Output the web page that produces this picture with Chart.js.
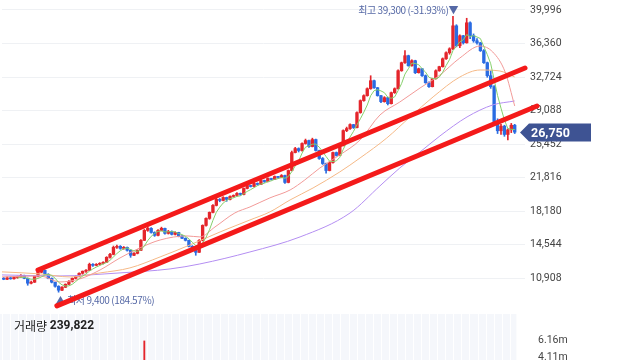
<!DOCTYPE html>
<html>
<head>
<meta charset="utf-8">
<script src="https://cdn.jsdelivr.net/npm/chart.js@4.4.1/dist/chart.umd.min.js"></script>
<style>
  html, body { margin: 0; padding: 0; background: #fff; }
  #wrap { position: relative; width: 640px; height: 360px; overflow: hidden; }
  #price { position: absolute; left: 0; top: 0; }
  #vol { position: absolute; left: 0; top: 314px; }
</style>
</head>
<body>
<div id="wrap">
  <canvas id="price" width="640" height="312"></canvas>
  <canvas id="vol" width="640" height="46"></canvas>
</div>
<script>
// --- datos de velas (일봉) ---
const opens = [
  10850,10800,10950,10850,11000,11050,11200,10900,10370,10480,
  11120,11560,11770,11340,10900,10480,10040,9610,9930,10260,
  10580,10900,11120,11450,11670,11770,12420,12310,12420,12530,
  12640,13180,13500,14260,14370,14150,14260,13940,13400,13610,
  13940,15020,16100,16320,15880,15560,16100,16320,15780,15990,
  15670,15880,15450,15240,15020,14370,13940,13720,15020,16640,
  17400,18050,18810,19460,19350,19670,19460,19780,19890,20110,
  20000,20650,20970,20860,21190,21080,21510,21400,21730,21620,
  21940,21840,22050,21300,22590,24540,24970,24760,25520,25840,
  25190,25950,24760,23890,23350,22590,23460,24540,24220,25300,
  26920,27140,27570,27250,28870,30170,30710,31460,32330,31570,
  30710,30060,30490,29840,31030,31460,33410,34280,35040,33950,
  34500,33200,33630,32870,32110,31680,32550,33410,33850,34710,
  35360,35790,38280,36120,37200,36440,38610,37200,36660,36440,
  35580,34280,32870,31680,27900,26900,27400,26500,27000,27500
];
const highs = [
  11000,11050,11050,11100,11150,11300,11250,10950,10600,11150,
  11600,11990,11800,11400,10950,10500,10100,10000,10300,10650,
  10950,11200,11500,11700,11850,12550,12500,12500,12600,12700,
  13250,13600,14400,14500,14450,14350,14300,14000,13700,14000,
  15100,16200,16500,16400,15950,16200,16450,16350,16100,16050,
  15950,15900,15550,15300,15050,14450,14100,15100,16700,17450,
  18100,18900,19600,19550,19750,19700,19850,19950,20200,20150,
  20700,21050,21000,21300,21250,21600,21550,21800,21750,22000,
  21950,22150,22100,22650,24700,25100,25050,25600,26000,25900,
  26100,26000,24800,24000,23400,23550,24600,24600,25400,27000,
  27300,27650,27600,28950,30250,30800,31550,32870,32400,31600,
  30750,30600,30550,31100,31550,33500,34350,35600,35100,34600,
  34550,33700,33650,32950,32200,32600,33500,33900,34800,35450,
  35900,39300,38400,37300,37250,39100,38700,37400,36900,36500,
  35700,34350,33400,31800,28200,27600,27500,27100,27700,27600
];
const lows = [
  10750,10750,10800,10800,10900,11000,10850,10150,10300,10450,
  11050,11500,11300,10850,10400,9950,9400,9550,9900,10200,
  10500,10850,11050,11350,11550,11750,12200,12250,12350,12450,
  12600,13100,13450,14150,14050,14050,13850,13180,13350,13550,
  13900,15000,16000,15800,15450,15500,16050,15700,15700,15600,
  15600,15400,15200,14950,14300,13850,13400,13700,14950,16550,
  17300,18000,18750,19200,19300,19250,19400,19700,19800,19900,
  19950,20600,20800,20800,21000,21050,21300,21350,21550,21600,
  21750,21800,21200,21250,22550,24500,24600,24700,25450,25100,
  25150,24700,23800,23250,22300,22550,23400,24150,24200,25250,
  26800,27050,27150,27200,28800,30100,30650,31400,31500,30650,
  29950,30000,29700,29800,30950,31400,33350,34200,33900,33900,
  33100,33150,32800,32050,31600,31650,32500,33350,33800,34650,
  35200,35700,36000,35900,36300,36400,36900,36500,36300,35500,
  34200,32700,31500,27600,26600,26500,26300,25900,26700,26600
];
const closes = [
  10800,10950,10850,11000,11050,11200,10900,10370,10480,11120,
  11560,11770,11340,10900,10480,10040,9610,9930,10260,10580,
  10900,11120,11450,11670,11770,12420,12310,12420,12530,12640,
  13180,13500,14260,14370,14150,14260,13940,13400,13610,13940,
  15020,16100,16320,15880,15560,16100,16320,15780,15990,15670,
  15880,15450,15240,15020,14370,13940,13720,15020,16640,17400,
  18050,18810,19460,19350,19670,19460,19780,19890,20110,20000,
  20650,20970,20860,21190,21080,21510,21400,21730,21620,21940,
  21840,22050,21300,22590,24540,24970,24760,25520,25840,25190,
  25950,24760,23890,23350,22590,23460,24540,24220,25300,26920,
  27140,27570,27250,28870,30170,30710,31460,32330,31570,30710,
  30060,30490,29840,31030,31460,33410,34280,35040,33950,34500,
  33200,33630,32870,32110,31680,32550,33410,33850,34710,35360,
  35790,38280,36120,37200,36440,38610,37200,36660,36440,35580,
  34280,32870,31680,27900,26900,27400,26500,27000,27500,26750
];
const volumes = [
  210000,180000,150000,170000,160000,240000,260000,520000,310000,640000,
  720000,680000,350000,410000,380000,420000,560000,330000,290000,310000,
  340000,360000,420000,390000,300000,1450000,620000,480000,450000,510000,
  1380000,1210000,2350000,1140000,760000,620000,690000,980000,570000,640000,
  2900000,6050000,2480000,1350000,1020000,1260000,980000,1110000,760000,820000,
  690000,730000,650000,720000,1080000,1150000,990000,1820000,2760000,2240000,
  1980000,2110000,2050000,1240000,1130000,1010000,960000,880000,1020000,790000,
  1340000,1190000,760000,910000,720000,1050000,680000,870000,640000,930000,
  610000,780000,1120000,1640000,3240000,2150000,1480000,1890000,1720000,1310000,
  1560000,1680000,1420000,1190000,1370000,1080000,1460000,890000,1520000,2810000,
  1930000,1640000,1210000,2560000,3120000,2470000,2280000,3350000,1980000,1760000,
  1430000,1120000,1290000,1670000,1540000,2980000,2630000,3040000,1870000,1410000,
  1530000,1090000,1240000,1310000,1180000,1260000,1420000,1090000,1680000,1870000,
  1540000,3480000,2620000,1910000,1730000,3210000,2140000,1560000,1220000,1470000,
  1830000,2050000,2240000,2960000,1680000,980000,760000,890000,540000,239822
];

// ejes
const yTicks = [10908, 14544, 18180, 21816, 25452, 29088, 32724, 36360, 39996];
const volTicks = [4110000, 6160000];

// medias móviles (índice de vela, precio)
const ma20X = [-0.5, 10.6, 16.4, 22.2, 28.1, 33.9, 39.7, 45.6, 53.4, 57.2, 61.6, 67.4, 71.8, 77.6, 83.5, 87.8, 92.2, 98, 103.9, 109.7, 115.5, 121.4, 127.2, 133, 138.9, 142.6, 146.2, 149];
const ma20Y = [11050, 11160, 10510, 10840, 11810, 13110, 14200, 15060, 15500, 15390, 16470, 17990, 18640, 19620, 20480, 21570, 22870, 24280, 25900, 28610, 30020, 31540, 32950, 34790, 36090, 35440, 33280, 29590];
const ma60X = [-0.5, 10.6, 19.3, 28.1, 36.8, 45.6, 54.3, 63.1, 71.8, 77.6, 83.5, 90.2, 98, 103.9, 111.7, 118.5, 125.2, 133, 138.9, 144.7, 149];
const ma60Y = [11600, 11380, 11050, 11490, 12030, 13220, 14520, 15930, 17230, 18100, 19400, 20700, 22440, 23950, 26120, 28400, 30570, 32730, 33490, 33380, 32730];
const ma120X = [-0.5, 16.4, 33.9, 48.5, 57.2, 71.8, 86.4, 101, 109.7, 115.5, 121.4, 127.2, 135.1, 142.6, 149];
const ma120Y = [11270, 11160, 11490, 11920, 12460, 13760, 15390, 17990, 20920, 22870, 24600, 26340, 28400, 29700, 30130];

// líneas de tendencia dibujadas a mano (canal)
const trendUpX = [10.0, 152.0];
const trendUpY = [11810, 33710];
const trendLowX = [15.5, 155.5];
const trendLowY = [7910, 29590];

// --- estilos ---
const N = closes.length;
const UP = '#e4252b';
const DOWN = '#2a6be2';
const NOTE = '#5669a6';
const numFont = 'Roboto, "Noto Sans", sans-serif';
const krFont = '"Noto Sans CJK KR", "Noto Sans", sans-serif';
const candleCol = closes.map((c, i) => c >= opens[i] ? UP : DOWN);
const fmt = v => Math.round(v).toLocaleString('en-US');

const xOpts = { type: 'linear', display: false, min: -0.5, max: 152, offset: false, grid: { display: false } };

function pts(xs, ys) { return xs.map((x, i) => ({ x: x, y: ys[i] })); }

// media de 5 días
const ma5 = closes.map((c, i) => {
  if (i < 4) return { x: i, y: null };
  let s = 0;
  for (let k = i - 4; k <= i; k++) s += closes[k];
  return { x: i, y: s / 5 };
});

function lineDs(data, color, order, extra) {
  return Object.assign({ type: 'line', data: data, borderColor: color, borderWidth: 1, pointRadius: 0, fill: false, order: order }, extra || {});
}

// --- textos de máximo / mínimo ---
const hiIdx = highs.indexOf(Math.max(...highs));
const loIdx = lows.indexOf(Math.min(...lows));
const last = closes[N - 1];

const notesPlugin = {
  id: 'notes',
  beforeDatasetsDraw(chart) {
    const ctx = chart.ctx, xs = chart.scales.x, ys = chart.scales.y;
    ctx.save();
    ctx.font = '10px ' + krFont;
    ctx.letterSpacing = '-0.4px';
    ctx.fillStyle = NOTE;
    ctx.textBaseline = 'middle';
    const pHi = ((last - highs[hiIdx]) / highs[hiIdx] * 100).toFixed(2);
    ctx.textAlign = 'right';
    ctx.fillText('최고 ' + fmt(highs[hiIdx]) + ' (' + pHi + '%)▼', xs.getPixelForValue(hiIdx) + 5, ys.getPixelForValue(highs[hiIdx]) - 6);
    const pLo = ((last - lows[loIdx]) / lows[loIdx] * 100).toFixed(2);
    ctx.textAlign = 'left';
    ctx.fillText('▲ 최저 ' + fmt(lows[loIdx]) + ' (' + pLo + '%)', xs.getPixelForValue(loIdx) - 3, ys.getPixelForValue(lows[loIdx]) + 8);
    ctx.restore();
  }
};

// --- etiqueta del último precio ---
const tagPlugin = {
  id: 'tag',
  afterDraw(chart) {
    const ctx = chart.ctx, ys = chart.scales.y;
    const y = Math.round(ys.getPixelForValue(last)) + 0.5;
    const tip = chart.chartArea.right - 5;
    ctx.save();
    ctx.fillStyle = '#3e5393';
    ctx.beginPath();
    ctx.moveTo(tip, y);
    ctx.lineTo(tip + 9, y - 9);
    ctx.lineTo(tip + 71, y - 9);
    ctx.lineTo(tip + 71, y + 9);
    ctx.lineTo(tip + 9, y + 9);
    ctx.closePath();
    ctx.fill();
    ctx.fillStyle = '#fff';
    ctx.font = 'bold 12.5px ' + numFont;
    ctx.textBaseline = 'middle';
    ctx.textAlign = 'left';
    ctx.fillText(fmt(last), tip + 11, y + 1);
    ctx.restore();
  }
};

new Chart(document.getElementById('price'), {
  type: 'bar',
  data: {
    datasets: [
      lineDs(pts(trendUpX, trendUpY), '#f41a1a', 0, { borderWidth: 5, clip: false, borderCapStyle: 'round' }),
      lineDs(pts(trendLowX, trendLowY), '#f41a1a', 0, { borderWidth: 5, clip: false, borderCapStyle: 'round' }),
      lineDs(ma5, '#86d06c', 1),
      lineDs(pts(ma20X, ma20Y), '#f29a98', 2, { cubicInterpolationMode: 'monotone' }),
      lineDs(pts(ma60X, ma60Y), '#f5b987', 3, { cubicInterpolationMode: 'monotone' }),
      lineDs(pts(ma120X, ma120Y), '#b48ef2', 4, { cubicInterpolationMode: 'monotone' }),
      {
        data: opens.map((o, i) => ({ x: i, y: [o, closes[i]] })),
        backgroundColor: candleCol, barThickness: 2.7, minBarLength: 1, grouped: false, order: 8
      },
      {
        data: lows.map((l, i) => ({ x: i, y: [l, highs[i]] })),
        backgroundColor: candleCol, barThickness: 1, grouped: false, order: 9
      }
    ]
  },
  options: {
    responsive: false,
    animation: false,
    events: [],
    layout: { padding: { left: 2, right: 0, top: 0, bottom: 0 } },
    plugins: { legend: { display: false }, tooltip: { enabled: false } },
    scales: {
      x: xOpts,
      y: {
        position: 'right',
        min: 7250,
        max: 41080,
        afterBuildTicks: s => { s.ticks = yTicks.map(v => ({ value: v })); },
        afterFit: s => { s.width = 115; s.paddingTop = 0; s.paddingBottom = 0; },
        grid: { color: '#eff1f4', drawTicks: false },
        border: { display: false },
        ticks: { padding: 5, color: '#444', font: { size: 10.5, family: numFont }, callback: v => fmt(v) }
      }
    }
  },
  plugins: [notesPlugin, tagPlugin]
});

// --- volumen ---
const volPlugin = {
  id: 'volbg',
  beforeDatasetsDraw(chart) {
    const ctx = chart.ctx, xs = chart.scales.x, a = chart.chartArea;
    const x0 = xs.getPixelForValue(-0.5) - 2, x1 = xs.getPixelForValue(N - 0.5);
    ctx.save();
    ctx.fillStyle = '#f5f7fb';
    ctx.fillRect(x0, a.top, x1 - x0, a.bottom - a.top);
    ctx.fillStyle = '#ffffff';
    for (let k = -0.5; k < N - 0.5; k += 2.35) {
      ctx.fillRect(Math.round(xs.getPixelForValue(k)), a.top, 1, a.bottom - a.top);
    }
    ctx.restore();
  },
  afterDraw(chart) {
    const ctx = chart.ctx;
    ctx.save();
    ctx.textBaseline = 'middle';
    ctx.fillStyle = '#222';
    ctx.font = '12px ' + krFont;
    ctx.fillText('거래량', 14, 12);
    const w = ctx.measureText('거래량 ').width;
    ctx.font = 'bold 12px ' + numFont;
    ctx.fillText(fmt(volumes[N - 1]), 14 + w, 12);
    ctx.restore();
  }
};

new Chart(document.getElementById('vol'), {
  type: 'bar',
  data: {
    datasets: [{
      data: volumes.map((v, i) => ({ x: i, y: v })),
      backgroundColor: candleCol, barThickness: 1.2, grouped: false
    }]
  },
  options: {
    responsive: false,
    animation: false,
    events: [],
    layout: { padding: { left: 2, right: 0, top: 0, bottom: 0 } },
    plugins: { legend: { display: false }, tooltip: { enabled: false } },
    scales: {
      x: xOpts,
      y: {
        position: 'right',
        min: 3750000,
        max: 9300000,
        afterBuildTicks: s => { s.ticks = volTicks.map(v => ({ value: v })); },
        afterFit: s => { s.width = 115; s.paddingTop = 0; s.paddingBottom = 0; },
        grid: { display: false },
        border: { display: false },
        ticks: { padding: 5, color: '#444', font: { size: 10.5, family: numFont }, callback: v => (v / 1e6).toFixed(2) + 'm' }
      }
    }
  },
  plugins: [volPlugin]
});
</script>
</body>
</html>
